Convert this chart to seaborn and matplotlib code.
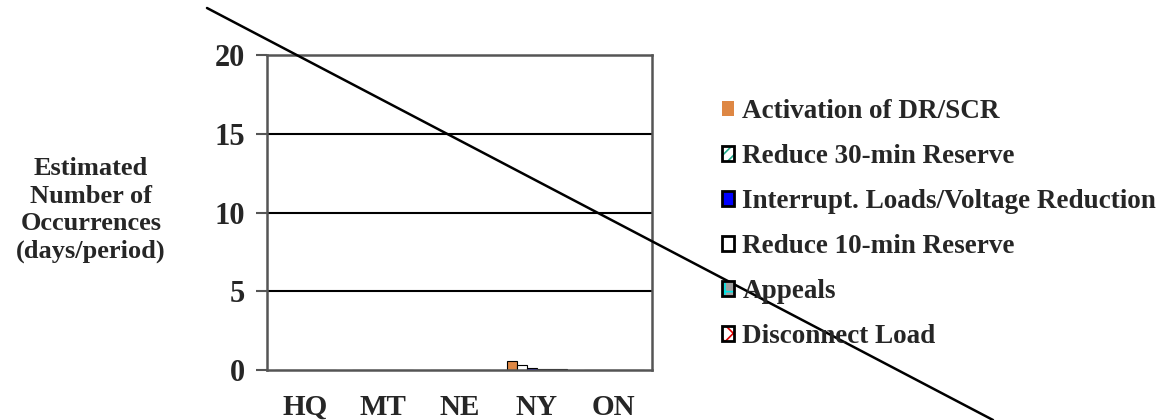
import matplotlib
matplotlib.use("Agg")
import matplotlib.pyplot as plt
import seaborn as sns
import pandas as pd
from matplotlib.patches import Patch
from matplotlib.lines import Line2D
from matplotlib.legend_handler import HandlerTuple

regions = ["HQ", "MT", "NE", "NY", "ON"]
series = ["Activation of DR/SCR", "Reduce 30-min Reserve",
          "Interrupt. Loads/Voltage Reduction", "Reduce 10-min Reserve",
          "Appeals", "Disconnect Load"]
activation = [0.0, 0.0, 0.03, 0.55, 0.0]
reduce30 = [0.0, 0.03, 0.03, 0.35, 0.0]
interrupt = [0.0, 0.02, 0.03, 0.15, 0.0]
reduce10 = [0.0, 0.0, 0.03, 0.08, 0.0]
appeals = [0.0, 0.0, 0.02, 0.06, 0.0]
disconnect = [0.0, 0.0, 0.0, 0.04, 0.0]

values = [activation, reduce30, interrupt, reduce10, appeals, disconnect]
rows = []
for s, vals in zip(series, values):
    for r, v in zip(regions, vals):
        rows.append({"region": r, "series": s, "value": v})
df = pd.DataFrame(rows)

faces = ["#DE8744", "white", "#0000FF", "white", "#A0A0A0", "white"]
hatch_cols = [None, "#1FA98A", None, "#8080FF", "#00E5E5", "#E00000"]
hatches = [None, "///", None, None, "+", "xx"]

sns.set_theme(style="white")
plt.rcParams["font.family"] = ["Liberation Serif", "DejaVu Serif"]
plt.rcParams["font.weight"] = "bold"
plt.rcParams["hatch.linewidth"] = 1.2

fig = plt.figure(figsize=(11.65, 4.2), dpi=100)
ax = fig.add_axes([0.2292, 0.119, 0.5597 - 0.2292, 0.869 - 0.119])

sns.barplot(data=df, x="region", y="value", hue="series", hue_order=series,
            palette=faces, width=0.78, ax=ax, legend=False, saturation=1)

for i, cont in enumerate(ax.containers):
    for p in cont:
        p.set_facecolor(faces[i])
        p.set_edgecolor("black")
        p.set_linewidth(0.8)

ax.set_ylim(0, 20)
ax.set_xlim(-0.5, 4.5)
ax.set_yticks([0, 5, 10, 15, 20])
ax.set_yticklabels(["0", "5", "10", "15", "20"], fontsize=22, fontweight="bold")
ax.set_xticks(range(5))
ax.set_xticklabels(regions, fontsize=21, fontweight="bold")
ax.set_xticks([-0.5, 0.5, 1.5, 2.5, 3.5, 4.5], minor=True)
ax.tick_params(axis="x", which="major", length=0, pad=17)
ax.tick_params(axis="x", which="minor", length=8, width=1.5, color="#555555", direction="out")
ax.tick_params(axis="y", length=8, width=1.5, color="#555555", direction="out", pad=8, left=True)
ax.set_xlabel("")
ax.set_ylabel("")
for y in [5, 10, 15]:
    ax.axhline(y, color="black", lw=1.5, zorder=0)
for sp in ax.spines.values():
    sp.set_visible(True)
    sp.set_color("#555555")
    sp.set_linewidth(1.8)

fig.text(91 / 1165, 1 - 210 / 420, "Estimated\nNumber of\nOccurrences\n(days/period)",
         ha="center", va="center", fontsize=19, fontweight="bold", linespacing=1.25)

handles = []
for i in range(6):
    base = Patch(facecolor=faces[i], edgecolor="none")
    if hatches[i]:
        hp = Patch(facecolor="none", edgecolor=hatch_cols[i], hatch=hatches[i], linewidth=0)
        edge = Patch(facecolor="none", edgecolor="black", linewidth=2)
        handles.append((base, hp, edge))
    elif i == 0:
        handles.append((base,))
    else:
        edge = Patch(facecolor="none", edgecolor="black", linewidth=2)
        handles.append((base, edge))

leg = fig.legend(handles, series, loc="center left", bbox_to_anchor=(722 / 1165, 1 - 224 / 420),
                 frameon=False, handlelength=0.45, handleheight=0.45, handletextpad=0.3,
                 labelspacing=0.74, borderpad=0, borderaxespad=0,
                 prop={"family": "Liberation Serif", "weight": "bold", "size": 19.5},
                 handler_map={tuple: HandlerTuple(ndivide=1, pad=0)})

fig.add_artist(Line2D([207 / 1165, 993 / 1165], [1 - 8 / 420, 0.0],
                      transform=fig.transFigure, color="black", lw=1.8))

fig.savefig("out.png", dpi=100)
